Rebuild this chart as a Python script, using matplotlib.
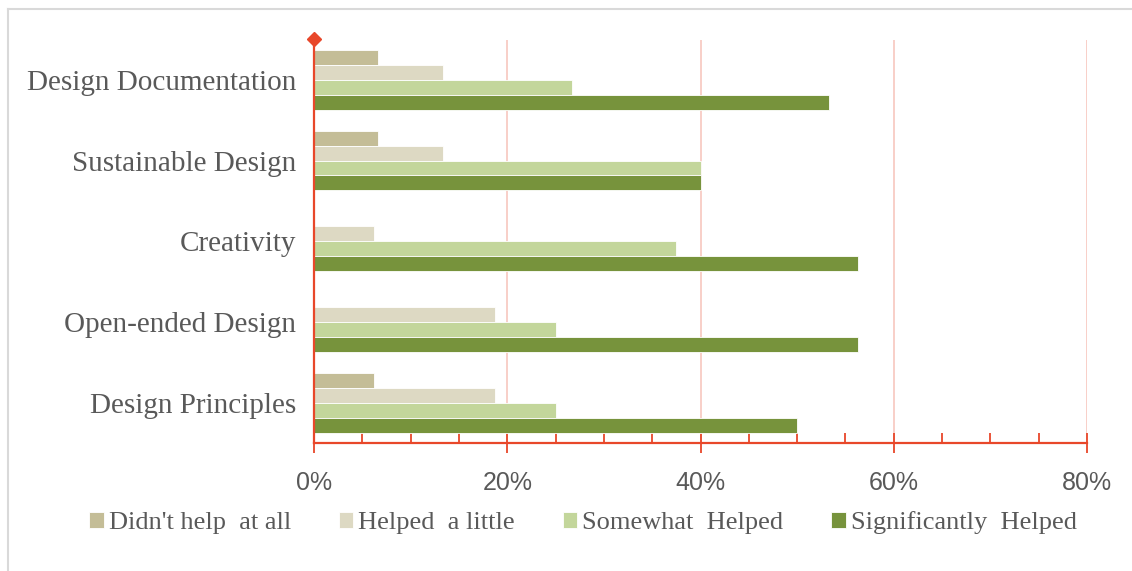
import matplotlib
matplotlib.use("Agg")
import matplotlib.pyplot as plt
from matplotlib.ticker import MultipleLocator, PercentFormatter
from matplotlib.lines import Line2D
import numpy as np

# data (percent)
categories = ["Design Principles", "Open-ended Design", "Creativity",
              "Sustainable Design", "Design Documentation"]
series_names = ["Didn't help  at all", "Helped  a little",
                "Somewhat  Helped", "Significantly  Helped"]
didnt_help = [6.25, 0, 0, 6.67, 6.67]
helped_little = [18.75, 18.75, 6.25, 13.33, 13.33]
somewhat = [25.0, 25.0, 37.5, 40.0, 26.67]
significantly = [50.0, 56.25, 56.25, 40.0, 53.33]

colors = ["#C4BD97", "#DDD9C3", "#C3D69B", "#77933C"]
axis_red = "#E8472A"
text_grey = "#595959"

fig = plt.figure(figsize=(11.32, 5.71), dpi=100)
ax = fig.add_axes([314 / 1132, 1 - 443 / 571, (1087 - 314) / 1132, (443 - 39.5) / 571])

y = np.arange(len(categories))
h = 0.185
values = [didnt_help, helped_little, somewhat, significantly]
for i, (vals, c, name) in enumerate(zip(values, colors, series_names)):
    offset = (1.5 - i) * h
    ax.barh(y + offset, vals, height=h, color=c, label=name,
            edgecolor="white", linewidth=0.6, zorder=3)

ax.set_xlim(0, 80)
ax.set_ylim(-0.5, 4.5)
ax.set_yticks(y)
ax.set_yticklabels(categories, family="Liberation Serif", fontsize=21, color=text_grey)
ax.tick_params(axis="y", length=0, pad=13)

ax.xaxis.set_major_locator(MultipleLocator(20))
ax.xaxis.set_minor_locator(MultipleLocator(5))
ax.xaxis.set_major_formatter(PercentFormatter(decimals=0))
ax.tick_params(axis="x", which="major", direction="inout", length=14, width=1.3,
               color=axis_red, labelcolor=text_grey, labelsize=18, pad=13)
ax.tick_params(axis="x", which="minor", direction="in", length=7, width=1.3, color=axis_red)
for lab in ax.get_xticklabels():
    lab.set_family(["Liberation Sans Narrow", "Liberation Sans"])

ax.grid(axis="x", which="major", color="#F8CFC8", linewidth=1.4, zorder=0)
for s in ["top", "right"]:
    ax.spines[s].set_visible(False)
ax.spines["left"].set_color(axis_red)
ax.spines["bottom"].set_color(axis_red)
ax.spines["left"].set_linewidth(1.6)
ax.spines["bottom"].set_linewidth(1.6)
ax.spines["left"].set_zorder(5)
ax.plot([0], [4.5], marker="D", color=axis_red, markersize=7, clip_on=False, zorder=6)

handles, labels = ax.get_legend_handles_labels()
leg = fig.legend(handles, labels, loc="center", bbox_to_anchor=(0.515, 1 - 523 / 571),
                 ncol=4, frameon=False, prop={"family": "Liberation Serif", "size": 19},
                 handlelength=0.55, handleheight=0.55, handletextpad=0.2, columnspacing=1.8)
for t in leg.get_texts():
    t.set_color(text_grey)

# thin grey frame on left and top
fig.add_artist(Line2D([8 / 1132, 8 / 1132], [0, 1 - 9 / 571], transform=fig.transFigure,
                      color="#D9D9D9", linewidth=1.5))
fig.add_artist(Line2D([8 / 1132, 1], [1 - 9 / 571, 1 - 9 / 571], transform=fig.transFigure,
                      color="#D9D9D9", linewidth=1.5))

fig.savefig("out.png", dpi=100)
